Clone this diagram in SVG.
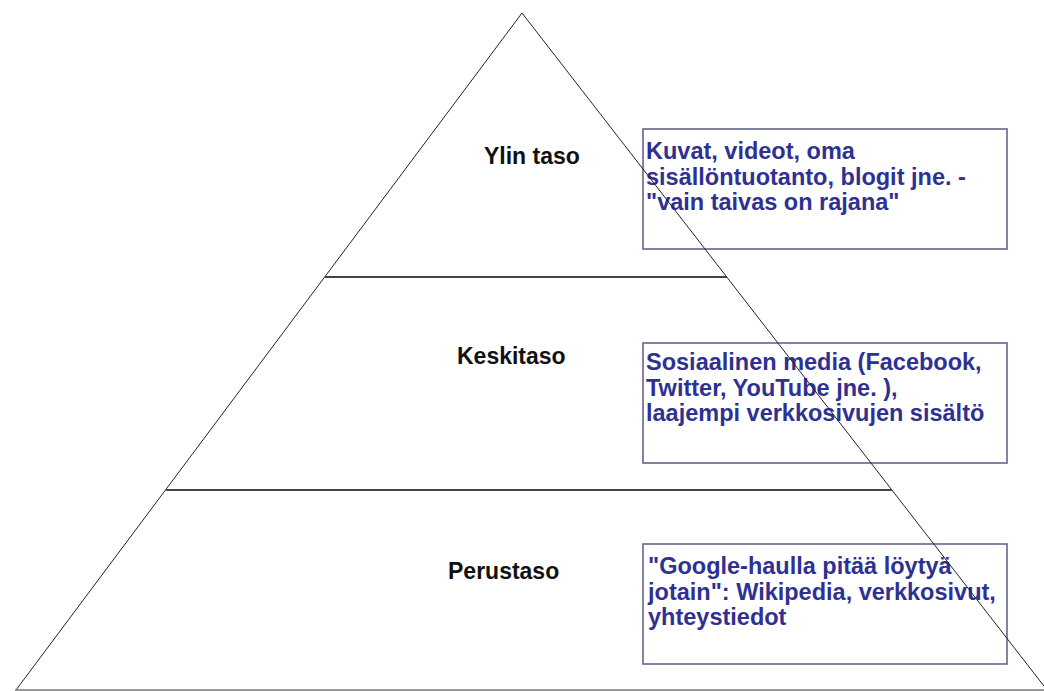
<svg xmlns="http://www.w3.org/2000/svg" width="1044" height="691" viewBox="0 0 1044 691">
<style>
.lvl{font-family:"Liberation Sans",Arial,sans-serif;font-weight:bold;font-size:23px;fill:#111}
.txt{font-family:"Liberation Sans",Arial,sans-serif;font-weight:bold;font-size:23.5px;fill:#2e3192}
.box{fill:#fff;stroke:#66668a;stroke-width:1.6}
.edge{stroke:#222;stroke-width:1;fill:none}
.div{stroke:#444;stroke-width:1.8}
</style>
<rect width="1044" height="691" fill="#fff"/>
<g id="level-top">
<text class="lvl" x="484" y="164">Ylin taso</text>
</g>
<g id="level-middle">
<text class="lvl" x="457" y="364">Keskitaso</text>
</g>
<g id="level-base">
<text class="lvl" x="448" y="579">Perustaso</text>
</g>
<g id="box-top">
<rect class="box" x="643" y="129" width="364" height="120"/>
<text class="txt"><tspan x="646" y="159">Kuvat, videot, oma</tspan><tspan x="646" y="185">sisällöntuotanto, blogit jne. -</tspan><tspan x="646" y="210">"vain taivas on rajana"</tspan></text>
</g>
<g id="box-middle">
<rect class="box" x="643" y="343" width="364" height="120"/>
<text class="txt"><tspan x="646" y="370">Sosiaalinen media (Facebook,</tspan><tspan x="646" y="396">Twitter, YouTube jne. ),</tspan><tspan x="646" y="421">laajempi verkkosivujen sisältö</tspan></text>
</g>
<g id="box-base">
<rect class="box" x="643" y="544" width="364" height="120"/>
<text class="txt"><tspan x="648" y="574">"Google-haulla pitää löytyä</tspan><tspan x="648" y="600">jotain": Wikipedia, verkkosivut,</tspan><tspan x="648" y="625">yhteystiedot</tspan></text>
</g>
<g id="pyramid">
<polyline class="edge" points="16,690 522,13 1047,690"/>
<line class="div" x1="325" y1="277" x2="727" y2="277"/>
<line class="div" x1="166" y1="490" x2="892" y2="490"/>
<line x1="15" y1="690" x2="1044" y2="690" stroke="#777" stroke-width="1.5"/>
</g>
</svg>
